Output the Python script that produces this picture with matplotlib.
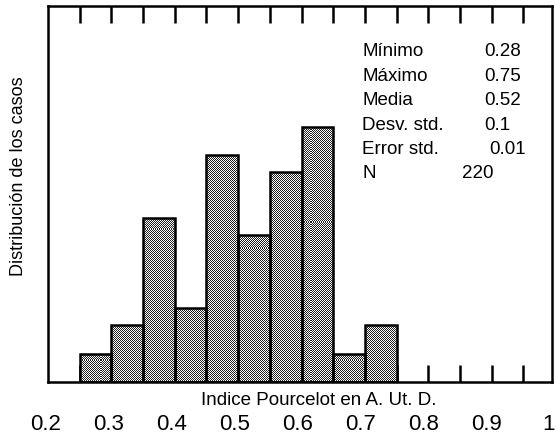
import numpy as np
import matplotlib
matplotlib.use('Agg')
import matplotlib.pyplot as plt

plt.rcParams['font.family'] = ['Liberation Sans', 'DejaVu Sans']

# histogram bins (left edges) and case counts
bin_left = [0.25, 0.30, 0.35, 0.40, 0.45, 0.50, 0.55, 0.60, 0.65, 0.70]
counts = [5, 10, 29, 13, 40, 26, 37, 45, 5, 10]
bin_width = 0.05

# summary table in the corner
stat_names = ['Mínimo', 'Máximo', 'Media', 'Desv. std.', 'Error std.', 'N']
stat_values = ['0.28', '0.75', '0.52', '0.1', '0.01', '220']

bottom_labels = ['0.2', '0.3', '0.4', '0.5', '0.6', '0.7', '0.8', '0.9', '1']
bottom_values = [0.2, 0.3, 0.4, 0.5, 0.6, 0.7, 0.8, 0.9, 1.0]

W, H = 556, 439
fig = plt.figure(figsize=(W / 100, H / 100), dpi=100)
# axes box in pixels: left 48, right 552, top 7, bottom 383
ax = fig.add_axes([48 / W, 1 - 383 / H, 504 / W, 376 / H])

xlim = (0.2, 0.995)
ylim = (0, 66.3)
ax.set_xlim(*xlim)
ax.set_ylim(*ylim)

bars = ax.bar(bin_left, counts, width=bin_width, align='edge', facecolor='none',
              edgecolor='black', linewidth=1.8, zorder=3)

# fine checkerboard screen like the printed halftone, clipped to each bar
yy, xx = np.mgrid[0:376, 0:504]
checker = ((xx + yy) % 2).astype(float)
for b in bars:
    im = ax.imshow(checker, cmap='gray', vmin=-0.15, vmax=1.0, extent=(*xlim, *ylim),
                   aspect='auto', interpolation='nearest', zorder=2)
    im.set_clip_path(b)

for s in ax.spines.values():
    s.set_linewidth(1.8)

# inward ticks every 0.05 on top and bottom, no labels
ticks = np.arange(0.25, 0.96, 0.05)
ax.set_xticks(ticks)
ax.set_xticklabels([])
ax.tick_params(axis='x', direction='in', length=12, width=1.8,
               top=True, bottom=True)
ax.set_yticks([])

ax.set_ylabel('Distribución de los casos', fontsize=13)
ax.yaxis.set_label_coords(-(48 - 27) / 504, (383 - 176) / 376)
ax.text((319 - 48) / 504, -(401 - 383) / 376, 'Indice Pourcelot en A. Ut. D.',
        transform=ax.transAxes, ha='center', va='center', fontsize=13.5)

# stats block
for i, (name, val) in enumerate(zip(stat_names, stat_values)):
    y = (383 - (52 + i * 24.4)) / 376
    ax.text((362 - 48) / 504, y, name, transform=ax.transAxes,
            ha='left', va='center', fontsize=13.5)
    vx = 484
    if val == '0.01':
        vx = 489
    if val == '220':
        vx = 462
    ax.text((vx - 48) / 504, y, val, transform=ax.transAxes,
            ha='left', va='center', fontsize=13.5)

# scale labels underneath, 0.2 just under the left spine
ax2 = fig.add_axes([46 / W, 1 - 425 / H, 503 / W, 0.001])
ax2.set_xlim(0.2, 1.0)
ax2.set_xticks(bottom_values)
ax2.set_xticklabels(bottom_labels, fontsize=16)
ax2.tick_params(axis='x', length=0, pad=0)
for t in ax2.get_xticklabels():
    t.set_verticalalignment('center')
ax2.set_yticks([])
for s in ax2.spines.values():
    s.set_visible(False)
ax2.patch.set_alpha(0)

fig.savefig('out.png', dpi=100)
